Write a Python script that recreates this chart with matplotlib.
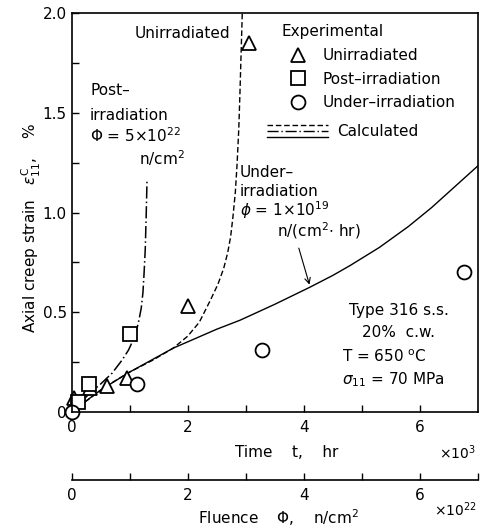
import numpy as np
import matplotlib
matplotlib.use("Agg")
import matplotlib.pyplot as plt
from matplotlib.lines import Line2D
from matplotlib.legend_handler import HandlerBase

plt.rcParams["font.family"] = ["DejaVu Sans"]
plt.rcParams["mathtext.fontset"] = "dejavusans"

# Experimental points (time in 10^3 hr, strain in %)
unirr_t = [0.05, 0.32, 0.61, 0.95, 2.0, 3.05]
unirr_eps = [0.07, 0.12, 0.13, 0.17, 0.53, 1.85]
post_t = [0.12, 0.30, 1.01]
post_eps = [0.05, 0.14, 0.39]
under_t = [0.0, 1.12, 3.28, 6.75]
under_eps = [0.0, 0.14, 0.31, 0.70]

# Calculated curves
calc_unirr_t = [0, 0.3, 0.6, 1.0, 1.4, 1.75, 2.0, 2.2, 2.39, 2.52, 2.62,
                2.69, 2.74, 2.78, 2.82, 2.85, 2.88, 2.90, 2.92, 2.94]
calc_unirr_eps = [0, 0.065, 0.13, 0.2, 0.26, 0.32, 0.38, 0.45, 0.56, 0.64, 0.72,
                  0.80, 0.88, 0.98, 1.10, 1.24, 1.42, 1.60, 1.80, 2.0]
calc_post_t = [0, 0.3, 0.5, 0.70, 0.87, 0.98, 1.06, 1.12, 1.16, 1.20, 1.23,
               1.25, 1.27, 1.285, 1.30]
calc_post_eps = [0, 0.09, 0.14, 0.195, 0.26, 0.31, 0.36, 0.41, 0.46, 0.52, 0.60,
                 0.70, 0.82, 0.98, 1.16]
calc_under_t = [0, 0.5, 1.0, 1.75, 2.5, 2.9, 3.5, 4.1, 4.5, 4.8, 5.3, 5.8, 6.2, 6.6, 7.0]
calc_under_eps = [0, 0.11, 0.2, 0.32, 0.415, 0.46, 0.54, 0.625, 0.685, 0.735, 0.825,
                  0.93, 1.025, 1.13, 1.235]

x_ticks = [0, 2, 4, 6]
y_ticks = [0, 0.5, 1.0, 1.5, 2.0]
y_ticklabels = ["0", "0.5", "1.0", "1.5", "2.0"]

FS = 11


class StackedLines(HandlerBase):
    def create_artists(self, legend, orig_handle, xdescent, ydescent,
                       width, height, fontsize, trans):
        arts = []
        for i, style in enumerate([(0, (4, 2)), (0, (8, 2, 1, 2)), "-"]):
            y = height * (1.05 - 0.55 * i) - ydescent
            arts.append(Line2D([-xdescent, width - xdescent], [y, y],
                               ls=style, color="k", lw=1.0, transform=trans))
        return arts


fig = plt.figure(figsize=(4.8, 5.29), dpi=100)
ax = fig.add_axes([0.149, 0.2212, 0.847, 0.754])

ax.plot(calc_unirr_t, calc_unirr_eps, color="k", lw=1.0, ls=(0, (4, 2)))
ax.plot(calc_post_t, calc_post_eps, color="k", lw=1.1, ls=(0, (8, 2, 1, 2)))
ax.plot(calc_under_t, calc_under_eps, color="k", lw=1.0, ls="-")

mk = dict(ls="none", mfc="white", mec="k", mew=1.3, ms=10, clip_on=False)
h1, = ax.plot(unirr_t, unirr_eps, marker="^", **mk)
h2, = ax.plot(post_t, post_eps, marker="s", **mk)
h3, = ax.plot(under_t, under_eps, marker="o", **mk)

ax.set_xlim(0, 7)
ax.set_ylim(0, 2.0)
ax.set_xticks(x_ticks)
ax.set_xticks([1, 3, 5], minor=True)
ax.set_yticks(y_ticks)
ax.set_yticklabels(y_ticklabels)
ax.set_yticks([0.25, 0.75, 1.25, 1.75], minor=True)
ax.tick_params(which="both", direction="in", labelsize=FS, length=5, width=1)
ax.tick_params(axis="x", pad=6)
for s in ax.spines.values():
    s.set_linewidth(1.2)

# fluence axis
sec = ax.secondary_xaxis(-0.17)
sec.set_xticks(x_ticks)
sec.set_xticks([1, 3, 5, 7], minor=True)
sec.tick_params(which="both", direction="in", labelsize=FS, length=5, width=1, pad=6)
sec.spines["bottom"].set_linewidth(1.2)

ax.text(0.53, -0.102, "Time    t,    hr", transform=ax.transAxes,
        ha="center", va="center", fontsize=FS)
ax.text(0.995, -0.102, r"$\times$10$^3$", transform=ax.transAxes,
        ha="right", va="center", fontsize=FS - 1)
ax.text(0.51, -0.265, r"Fluence    $\Phi$,    n/cm$^2$", transform=ax.transAxes,
        ha="center", va="center", fontsize=FS)
ax.text(0.998, -0.245, r"$\times$10$^{22}$", transform=ax.transAxes,
        ha="right", va="center", fontsize=FS - 1)
fig.text(0.066, 0.569, r"Axial creep strain   $\varepsilon^{\mathrm{C}}_{11}$,    %",
         rotation=90, ha="center", va="center", fontsize=FS)

# curve labels
ax.text(1.09, 1.90, "Unirradiated", ha="left", va="center", fontsize=FS)
ax.text(0.32, 1.61, "Post\u2013", ha="left", va="center", fontsize=FS)
ax.text(0.32, 1.485, "irradiation", ha="left", va="center", fontsize=FS)
ax.text(0.32, 1.385, r"$\Phi$ = 5$\times$10$^{22}$", ha="left", va="center", fontsize=FS)
ax.text(1.96, 1.275, r"n/cm$^2$", ha="right", va="center", fontsize=FS)

ax.text(2.9, 1.20, "Under\u2013", ha="left", va="center", fontsize=FS)
ax.text(2.9, 1.105, "irradiation", ha="left", va="center", fontsize=FS)
ax.text(2.9, 1.01, r"$\phi$ = 1$\times$10$^{19}$", ha="left", va="center", fontsize=FS)
ax.text(3.54, 0.91, r"n/(cm$^2$$\cdot$ hr)", ha="left", va="center", fontsize=FS)
ax.annotate("", xy=(4.11, 0.625), xytext=(3.9, 0.835),
            arrowprops=dict(arrowstyle="->", lw=0.8, color="k"))

ax.text(5.63, 0.51, "Type 316 s.s.", ha="center", va="center", fontsize=FS)
ax.text(5.63, 0.40, "20%  c.w.", ha="center", va="center", fontsize=FS)
ax.text(4.66, 0.275, r"T = 650 $^{\mathrm{o}}$C", ha="left", va="center", fontsize=FS)
ax.text(4.66, 0.16, r"$\sigma_{11}$ = 70 MPa", ha="left", va="center", fontsize=FS)

# legends
ax.text(0.517, 0.953, "Experimental", transform=ax.transAxes,
        ha="left", va="center", fontsize=FS)
leg1 = ax.legend([h1, h2, h3], ["Unirradiated", "Post\u2013irradiation", "Under\u2013irradiation"],
                 loc="upper left", bbox_to_anchor=(0.532, 0.912),
                 frameon=False, fontsize=FS, handlelength=1.3,
                 handletextpad=0.95, labelspacing=0.55, borderpad=0, borderaxespad=0)
ax.add_artist(leg1)
calc_handle = Line2D([], [])
ax.legend([calc_handle], ["Calculated"], handler_map={Line2D: StackedLines()},
          loc="upper left", bbox_to_anchor=(0.481, 0.722), frameon=False,
          fontsize=FS, handlelength=4.0, handletextpad=0.6, borderpad=0,
          borderaxespad=0)

fig.savefig("out.png", dpi=100)
